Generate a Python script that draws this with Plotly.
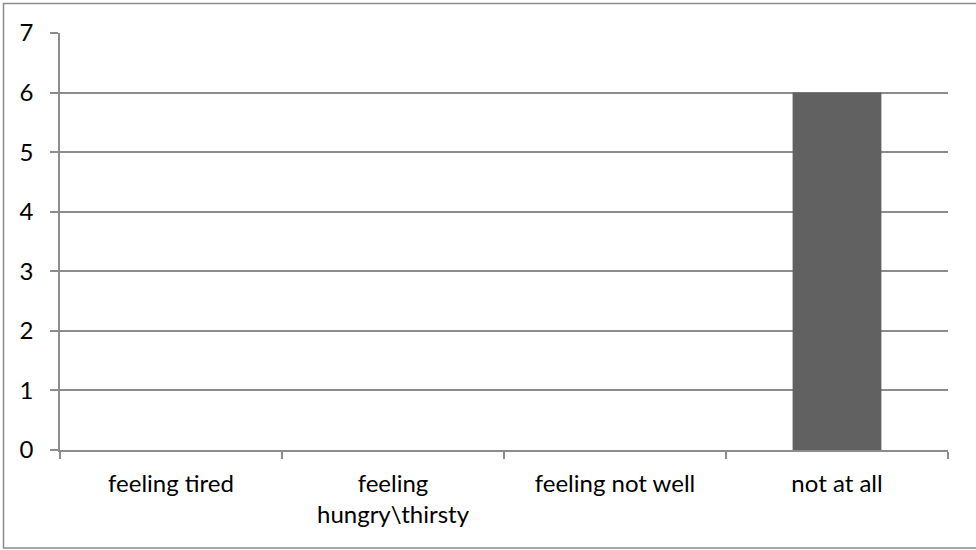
import plotly.graph_objects as go

categories = ["feeling tired", "feeling<br>hungry\\thirsty", "feeling not well", "not at all"]
values = [0, 0, 0, 6]
y_ticks = [0, 1, 2, 3, 4, 5, 6, 7]

W, H = 976, 550
M_L, M_R, M_T, M_B = 60, 28, 33, 100
PW, PH = W - M_L - M_R, H - M_T - M_B

GRID = "#8c8c8c"
FONT = dict(family="Lato, 'Open Sans', sans-serif", size=24, color="#000000")


def px_x(p):
    return (p - M_L) / PW


def px_y(p):
    return (H - M_B - p) / PH


fig = go.Figure(
    go.Bar(
        x=categories,
        y=values,
        width=0.4,
        marker=dict(color="#616161", line=dict(width=0)),
        hoverinfo="x+y",
    )
)

fig.update_layout(
    width=W,
    height=H,
    margin=dict(l=M_L, r=M_R, t=M_T, b=M_B, pad=0),
    paper_bgcolor="#ffffff",
    plot_bgcolor="#ffffff",
    font=FONT,
    showlegend=False,
    xaxis=dict(
        type="category",
        categoryorder="array",
        categoryarray=categories,
        showline=True,
        linecolor=GRID,
        linewidth=1.5,
        ticks="outside",
        tickson="boundaries",
        ticklen=7,
        tickwidth=1.5,
        tickcolor=GRID,
        showgrid=False,
        ticklabelstandoff=11,
        tickfont=FONT,
    ),
    yaxis=dict(
        range=[0, 7],
        tickvals=y_ticks,
        showline=True,
        linecolor=GRID,
        linewidth=1.5,
        ticks="outside",
        ticklen=8,
        tickwidth=1.5,
        tickcolor=GRID,
        showgrid=True,
        gridcolor=GRID,
        gridwidth=1.5,
        zeroline=False,
        ticklabelstandoff=12,
        tickfont=FONT,
    ),
    shapes=[
        dict(
            type="rect",
            xref="paper",
            yref="paper",
            x0=px_x(3.5),
            x1=px_x(W + 10),
            y0=px_y(548),
            y1=px_y(3.5),
            line=dict(color=GRID, width=1.5),
            fillcolor="rgba(0,0,0,0)",
            layer="below",
        )
    ],
)

fig.write_html("out.html")
